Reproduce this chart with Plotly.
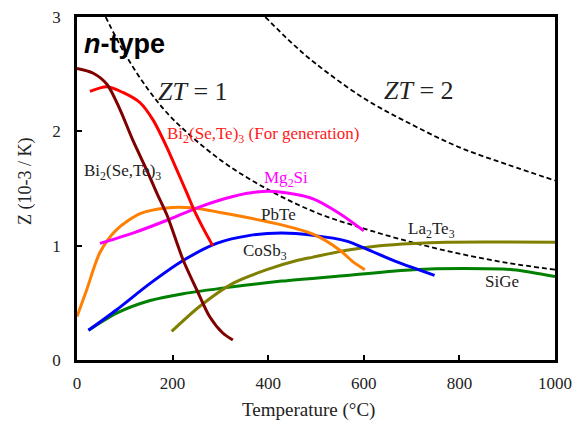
import plotly.graph_objects as go

# ---- data ----
bi_T = [0, 33, 63, 90, 117, 146, 167, 188, 222, 251, 278, 305, 326]
bi_Z = [2.55, 2.51, 2.41, 2.19, 1.92, 1.66, 1.46, 1.27, 0.875, 0.61, 0.376, 0.236, 0.175]

bigen_T = [27, 63, 96, 132, 159, 188, 209, 230, 245, 263, 284]
bigen_Z = [2.35, 2.39, 2.34, 2.25, 2.10, 1.86, 1.66, 1.46, 1.31, 1.16, 1.00]

pbte_T = [0, 20, 48, 83, 132, 187, 243, 326, 430, 494, 550, 577, 602]
pbte_Z = [0.38, 0.61, 0.94, 1.14, 1.28, 1.33, 1.33, 1.27, 1.18, 1.10, 0.96, 0.86, 0.79]

mg_T = [48, 117, 187, 257, 326, 376, 424, 494, 550, 600]
mg_Z = [1.02, 1.11, 1.22, 1.34, 1.43, 1.47, 1.47, 1.41, 1.28, 1.13]

co_T = [24, 83, 153, 222, 292, 362, 428, 494, 564, 606, 668, 748]
co_Z = [0.26, 0.44, 0.67, 0.87, 1.02, 1.09, 1.11, 1.09, 1.04, 0.97, 0.86, 0.74]

sige_T = [24, 83, 153, 222, 326, 428, 564, 703, 807, 912, 1000]
sige_Z = [0.26, 0.41, 0.52, 0.58, 0.64, 0.69, 0.74, 0.79, 0.80, 0.79, 0.73]

la_T = [198, 257, 326, 397, 460, 494, 564, 633, 703, 773, 1000]
la_Z = [0.25, 0.47, 0.67, 0.79, 0.87, 0.90, 0.96, 1.00, 1.02, 1.03, 1.03]

zt1_T = [60, 100, 150, 200, 300, 400, 500, 600, 700, 800, 900, 1000]
zt1_Z = [3.00, 2.68, 2.36, 2.11, 1.75, 1.49, 1.29, 1.15, 1.03, 0.93, 0.85, 0.79]

zt2_T = [394, 450, 500, 600, 700, 800, 900, 1000]
zt2_Z = [3.00, 2.77, 2.59, 2.29, 2.06, 1.86, 1.71, 1.57]

x_ticks = [0, 200, 400, 600, 800, 1000]
y_ticks = [0, 1, 2, 3]

SERIF = "Liberation Serif"
SANS = "Liberation Sans"
TXT = "#222222"

fig = go.Figure()

def dashed(T, Z):
    fig.add_trace(go.Scatter(x=T, y=Z, mode="lines",
                             line=dict(color="black", width=1.8, dash="5px,3px", shape="spline"),
                             hoverinfo="skip", showlegend=False))

def curve(T, Z, color):
    fig.add_trace(go.Scatter(x=T, y=Z, mode="lines",
                             line=dict(color=color, width=3, shape="spline", smoothing=0.8),
                             showlegend=False))

dashed(zt1_T, zt1_Z)
dashed(zt2_T, zt2_Z)
curve(sige_T, sige_Z, "#008000")
curve(la_T, la_Z, "#808000")
curve(co_T, co_Z, "#0000ff")
curve(pbte_T, pbte_Z, "#ff7f00")
curve(mg_T, mg_Z, "#ff00ff")
curve(bigen_T, bigen_Z, "#ff0000")
curve(bi_T, bi_Z, "#800000")

def label(x, y, text, color=TXT, size=17, font=SERIF, xanchor="left"):
    fig.add_annotation(x=x, y=y, text=text, showarrow=False, xanchor=xanchor, yanchor="middle",
                       font=dict(family=font, size=size, color=color))

label(100, 2.76, "<b><i>n</i>-type</b>", color="black", size=27, font=SANS, xanchor="center")
label(242, 2.35, "<i>ZT</i> = 1", size=26, xanchor="center")
label(715, 2.36, "<i>ZT</i> = 2", size=26, xanchor="center")
label(184, 1.97, "Bi<sub>2</sub>(Se,Te)<sub>3</sub> (For generation)", color="#ff1a1a")
label(10, 1.64, "Bi<sub>2</sub>(Se,Te)<sub>3</sub>")
label(387, 1.58, "Mg<sub>2</sub>Si", color="#ff00ff")
label(380, 1.27, "PbTe")
label(343, 0.945, "CoSb<sub>3</sub>")
label(688, 1.14, "La<sub>2</sub>Te<sub>3</sub>")
label(849, 0.69, "SiGe")

# axis titles
fig.add_annotation(x=0.485, y=-0.145, xref="paper", yref="paper", text="Temperature (°C)", showarrow=False,
                   xanchor="center", yanchor="middle", font=dict(family=SERIF, size=19, color=TXT))
fig.add_annotation(x=-0.108, y=0.52, xref="paper", yref="paper", text="Z (10-3 / K)", showarrow=False,
                   textangle=-90, xanchor="center", yanchor="middle", font=dict(family=SERIF, size=18, color=TXT))

axis_common = dict(ticks="inside", ticklen=5, tickwidth=2, tickcolor="black",
                   showline=True, linecolor="black", linewidth=2.5, mirror=True,
                   showgrid=False, zeroline=False, automargin=False,
                   tickfont=dict(size=17, family=SERIF, color=TXT))

fig.update_layout(
    width=586, height=425,
    margin=dict(l=77, r=31, t=17, b=65),
    paper_bgcolor="white", plot_bgcolor="white",
    font=dict(family=SERIF, color=TXT),
    xaxis=dict(range=[0, 1000], tickvals=x_ticks, ticklabelstandoff=6, **axis_common),
    yaxis=dict(range=[0, 3], tickvals=y_ticks, ticklabelstandoff=10, **axis_common),
)

fig.write_html("out.html", config={"displayModeBar": False},
               post_script="document.body.style.margin='0';document.body.style.overflow='hidden';")
